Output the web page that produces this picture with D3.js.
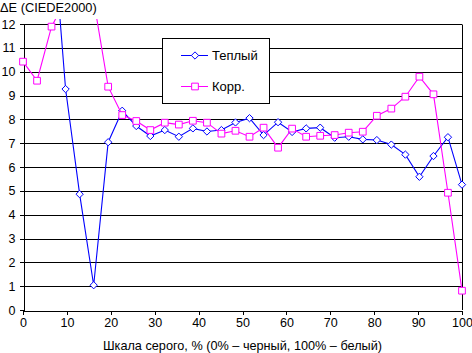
<!DOCTYPE html>
<html lang="ru">
<head>
	<meta charset="UTF-8">
	<title>deltaE grey scale</title>
	<style>
		body { margin: 0; background: #fff; }
		svg { display: block; font-family: "Liberation Sans", Arial, sans-serif; }
	</style>
</head>
<body>
	<svg id="container" width="472" height="353"></svg>
<script src="https://cdn.jsdelivr.net/npm/d3@7"></script>
<script>
	// grey levels, %
	let greyLevels = [0, 3.2, 6.5, 9.7, 12.9, 16.1, 19.4, 22.6, 25.8, 29.0, 32.3, 35.5, 38.7, 41.9, 45.2, 48.4,
		51.6, 54.8, 58.1, 61.3, 64.5, 67.7, 71.0, 74.2, 77.4, 80.6, 83.9, 87.1, 90.3, 93.5, 96.8, 100]
	// "Теплый" series
	let warmValues = [17.5, 18.0, 16.7, 9.27, 4.86, 1.04, 7.04, 8.36, 7.72, 7.30, 7.55, 7.27, 7.62, 7.49, 7.55, 7.87,
		8.05, 7.34, 7.88, 7.47, 7.62, 7.65, 7.23, 7.27, 7.16, 7.13, 6.94, 6.52, 5.59, 6.46, 7.25, 5.26]
	// "Корр." series
	let corrValues = [10.42, 9.62, 11.89, 13.0, 14.0, 13.0, 9.37, 8.18, 7.93, 7.55, 7.86, 7.78, 7.94, 7.86, 7.40, 7.52,
		7.27, 7.65, 6.81, 7.61, 7.27, 7.31, 7.34, 7.44, 7.48, 8.15, 8.45, 8.95, 9.79, 9.05, 4.92, 0.81]
	let xTicks = [0, 10, 20, 30, 40, 50, 60, 70, 80, 90, 100]
	let yTicks = [0, 1, 2, 3, 4, 5, 6, 7, 8, 9, 10, 11, 12]
	let seriesNames = ["Теплый", "Корр."]

	let svg = d3.select("#container")
	let plotLeft = 23, plotRight = 462, plotTop = 24, plotBottom = 310

	let xscale = d3.scaleLinear().domain([0, 100]).range([plotLeft, plotRight])
	let yscale = d3.scaleLinear().domain([0, 12]).range([plotBottom, plotTop])

	// gridlines
	svg.append("g")
		.selectAll("line")
		.data(yTicks.slice(1))
		.join("line")
		.attr("x1", plotLeft).attr("x2", plotRight)
		.attr("y1", d => Math.round(yscale(d)) + 0.5)
		.attr("y2", d => Math.round(yscale(d)) + 0.5)
		.attr("stroke", "#000")
	svg.append("line")
		.attr("x1", plotRight + 0.5).attr("x2", plotRight + 0.5)
		.attr("y1", plotTop + 0.5).attr("y2", plotBottom)
		.attr("stroke", "#000")

	svg.append("g")
		.attr("transform", "translate(" + (plotLeft + 0.5) + ",0)")
		.call(d3.axisLeft(yscale).tickValues(yTicks).tickSize(4).tickSizeOuter(0).tickPadding(4))
	svg.append("g")
		.attr("transform", "translate(0," + (plotBottom + 0.5) + ")")
		.call(d3.axisBottom(xscale).tickValues(xTicks).tickSize(4).tickSizeOuter(0).tickPadding(4))
	svg.selectAll(".tick text").attr("font-size", "12.5px").attr("font-family", "Liberation Sans, Arial, sans-serif").attr("fill", "#000")
	svg.selectAll(".domain, .tick line").attr("stroke", "#000").attr("shape-rendering", "crispEdges")

	svg.append("text")
		.attr("x", 0).attr("y", 11.5)
		.attr("font-size", "12.8px")
		.text("ΔE (CIEDE2000)")
	svg.append("text")
		.attr("x", (plotLeft + plotRight) / 2).attr("y", 350)
		.attr("text-anchor", "middle")
		.attr("font-size", "12.7px")
		.text("Шкала серого, % (0% – черный, 100% – белый)")

	// clip so lines running off the top stop just above the 12 line
	svg.append("clipPath").attr("id", "clip")
		.append("rect").attr("x", 0).attr("y", 19).attr("width", 472).attr("height", 334)

	let plot = svg.append("g").attr("clip-path", "url(#clip)")
	let line = d3.line().x((d, i) => xscale(greyLevels[i])).y(d => yscale(d))

	let diamond = d3.symbol().type(d3.symbolDiamond2).size(34)
	let square = d3.symbol().type(d3.symbolSquare).size(45)

	function drawSeries(values, color, symbol) {
		plot.append("path")
			.datum(values)
			.attr("d", line)
			.attr("fill", "none")
			.attr("stroke", color)
			.attr("stroke-width", 1.1)
		plot.append("g")
			.selectAll("path")
			.data(values)
			.join("path")
			.attr("transform", (d, i) => "translate(" + xscale(greyLevels[i]) + "," + yscale(d) + ")")
			.attr("d", symbol)
			.attr("fill", "#fff")
			.attr("stroke", color)
			.attr("stroke-width", 1)
	}
	drawSeries(warmValues, "#0000ff", diamond)
	drawSeries(corrValues, "#ff00ff", square)

	// legend
	let legend = svg.append("g")
	legend.append("rect")
		.attr("x", 162.5).attr("y", 38.5).attr("width", 107).attr("height", 65)
		.attr("fill", "#fff").attr("stroke", "#000")
	let legendItems = [
		{ name: seriesNames[0], color: "#0000ff", symbol: diamond, y: 55.5 },
		{ name: seriesNames[1], color: "#ff00ff", symbol: square, y: 86.5 }
	]
	legendItems.forEach(item => {
		legend.append("line")
			.attr("x1", 181).attr("x2", 208).attr("y1", item.y).attr("y2", item.y)
			.attr("stroke", item.color)
		legend.append("path")
			.attr("transform", "translate(195," + item.y + ")")
			.attr("d", item.symbol)
			.attr("fill", "#fff").attr("stroke", item.color)
		legend.append("text")
			.attr("x", 212).attr("y", item.y + 4.5)
			.attr("font-size", "13px")
			.text(item.name)
	})
</script>
</body>
</html>
